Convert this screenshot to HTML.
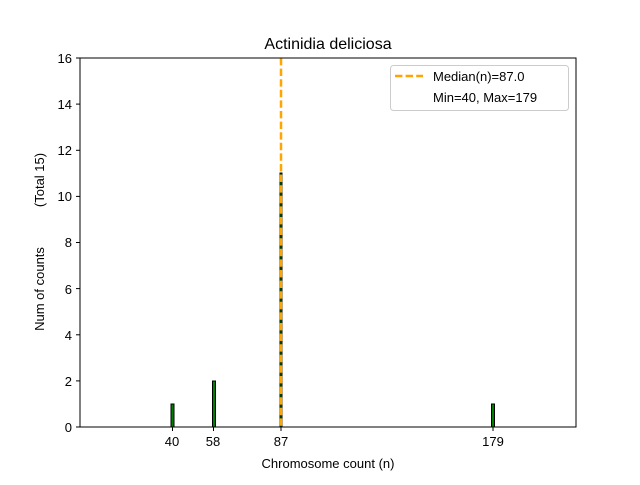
<!DOCTYPE html>
<html><head><style>body{margin:0;background:#fff}</style></head><body>
<svg width="640" height="480" xmlns="http://www.w3.org/2000/svg" font-family="Liberation Sans, DejaVu Sans, sans-serif">
<rect width="640" height="480" fill="#fff"/>
<text x="328" y="49" font-size="16" text-anchor="middle">Actinidia deliciosa</text>
<rect x="171" y="404" width="3" height="23" fill="green" stroke="#000" stroke-width="1"/>
<rect x="212.5" y="381" width="3" height="46" fill="green" stroke="#000" stroke-width="1"/>
<rect x="280" y="173" width="2" height="254" fill="green" stroke="#000" stroke-width="1"/>
<rect x="491.5" y="404" width="3" height="23" fill="green" stroke="#000" stroke-width="1"/>
<line x1="281" y1="58" x2="281" y2="427" stroke="orange" stroke-width="2.5" stroke-dasharray="7.4,3.2"/>
<rect x="80" y="58" width="496" height="369" fill="none" stroke="#000" stroke-width="1"/>
<g stroke="#000">
<line x1="76" y1="427" x2="80" y2="427"/><line x1="76" y1="380.9" x2="80" y2="380.9"/><line x1="76" y1="334.8" x2="80" y2="334.8"/><line x1="76" y1="288.6" x2="80" y2="288.6"/><line x1="76" y1="242.5" x2="80" y2="242.5"/><line x1="76" y1="196.4" x2="80" y2="196.4"/><line x1="76" y1="150.3" x2="80" y2="150.3"/><line x1="76" y1="104.1" x2="80" y2="104.1"/><line x1="76" y1="58" x2="80" y2="58"/>
<line x1="172.5" y1="427" x2="172.5" y2="431"/><line x1="213.5" y1="427" x2="213.5" y2="431"/><line x1="281" y1="427" x2="281" y2="431"/><line x1="493" y1="427" x2="493" y2="431"/>
</g>
<g font-size="13" text-anchor="end">
<text x="72" y="432">0</text><text x="72" y="386">2</text><text x="72" y="340">4</text><text x="72" y="294">6</text><text x="72" y="247">8</text><text x="72" y="201">10</text><text x="72" y="155">12</text><text x="72" y="109">14</text><text x="72" y="63">16</text>
</g>
<g font-size="13" text-anchor="middle">
<text x="172" y="446">40</text><text x="213" y="446">58</text><text x="281" y="446">87</text><text x="493" y="446">179</text>
<text x="328" y="468">Chromosome count (n)</text>
</g>
<text transform="translate(44,289) rotate(-90)" font-size="13" text-anchor="middle">Num of counts</text>
<text transform="translate(44,180) rotate(-90)" font-size="13" text-anchor="middle">(Total 15)</text>
<rect x="390.5" y="65.5" width="178" height="45" rx="3" fill="#fff" stroke="#ccc"/>
<line x1="395" y1="76" x2="423" y2="76" stroke="orange" stroke-width="2.5" stroke-dasharray="7.4,3.2"/>
<text x="433" y="81" font-size="13">Median(n)=87.0</text>
<text x="433" y="102" font-size="13">Min=40, Max=179</text>
</svg>
</body></html>
